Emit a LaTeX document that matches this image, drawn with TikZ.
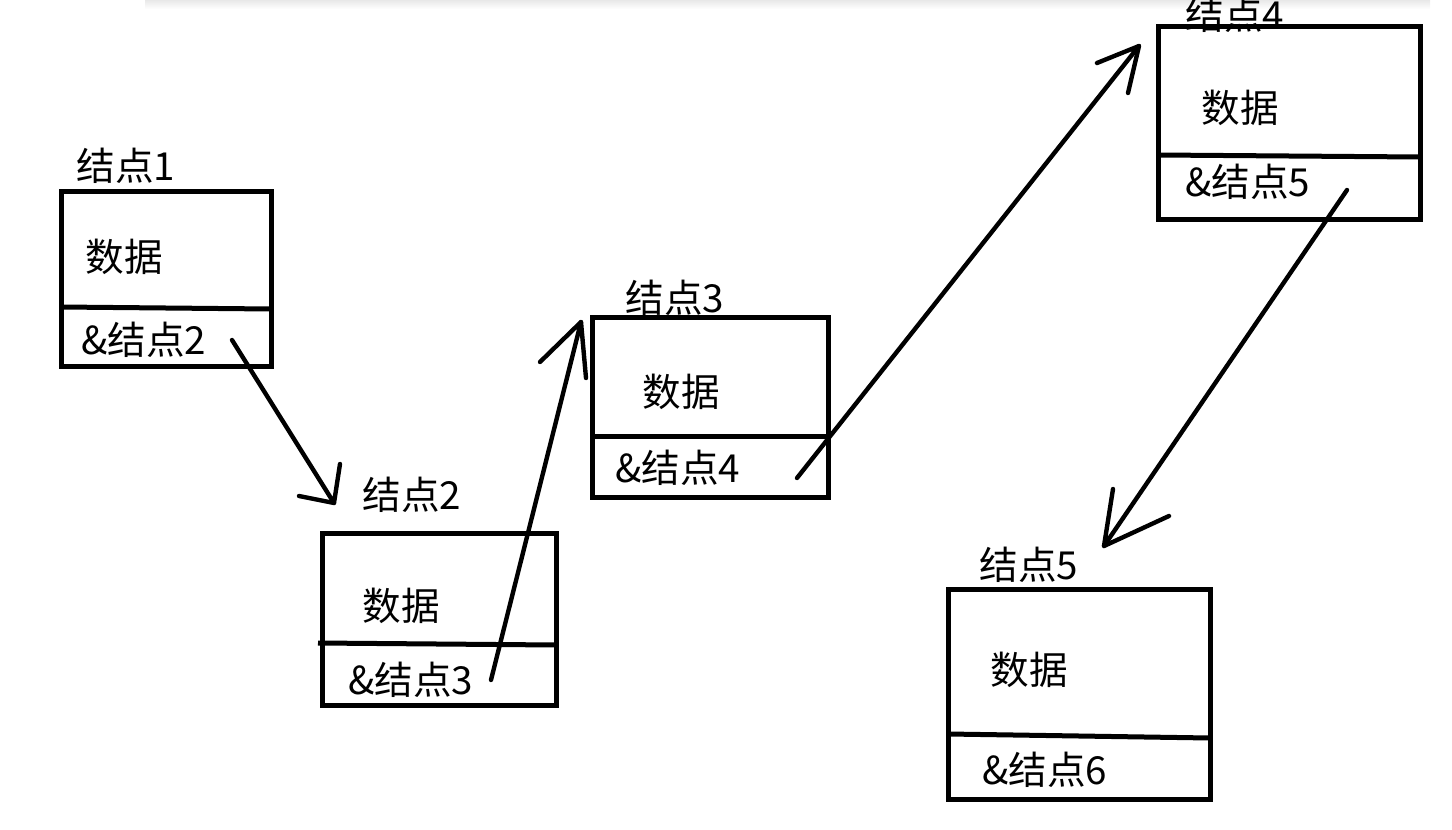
\documentclass[tikz,border=0pt]{standalone}
\usepackage{fontspec}
\setmainfont{Noto Sans CJK SC}
\begin{document}
\begin{tikzpicture}[x=0.5pt,y=-0.5pt,
  boxline/.style={line width=2.5pt},
  arr/.style={line width=2.2pt,line cap=round,line join=round},
  lbl/.style={anchor=west,inner sep=0pt,font=\fontsize{19.3pt}{21pt}\selectfont}]
\useasboundingbox (0,0) rectangle (1452,830);
\shade[top color=gray!18,bottom color=white] (145,0) rectangle (1430,9);
% node 1
\node[lbl] (l1) at (76,166) {结点1};
\draw[boxline] (61,191) rectangle (271,366);
\draw[boxline] (61,307) -- (271,309);
\node[lbl] (d1) at (85,257) {数据};
\node[lbl] (p1) at (81,340) {\&结点2};
% node 2
\node[lbl] (l2) at (362,495) {结点2};
\draw[boxline] (322,533) rectangle (556,705);
\draw[boxline] (318,643) -- (556,645);
\node[lbl] (d2) at (362,606) {数据};
\node[lbl] (p2) at (348,680) {\&结点3};
% node 3
\node[lbl] (l3) at (625,298) {结点3};
\draw[boxline] (592,317) rectangle (828,497);
\draw[boxline] (592,436) -- (828,436);
\node[lbl] (d3) at (642,392) {数据};
\node[lbl] (p3) at (615,468) {\&结点4};
% node 4
\node[lbl] (l4) at (1185,15) {结点4};
\draw[boxline] (1158,26) rectangle (1420,219);
\draw[boxline] (1158,155) -- (1420,157);
\node[lbl] (d4) at (1201,108) {数据};
\node[lbl] (p4) at (1185,182) {\&结点5};
% node 5
\node[lbl] (l5) at (979,565) {结点5};
\draw[boxline] (948,589) rectangle (1210,799);
\draw[boxline] (948,734) -- (1210,738);
\node[lbl] (d5) at (990,670) {数据};
\node[lbl] (p5) at (982,770) {\&结点6};
% arrows
\coordinate (s1) at (232,340); \coordinate (e1) at (334,503);
\draw[arr] (s1) -- (e1) -- (340,464); \draw[arr] (e1) -- (299,496);
\coordinate (s2) at (491,680); \coordinate (e2) at (581,322);
\draw[arr] (s2) -- (e2) -- (540,362); \draw[arr] (e2) -- (586,378);
\coordinate (s3) at (797,478); \coordinate (e3) at (1139,46);
\draw[arr] (s3) -- (e3) -- (1097,63); \draw[arr] (e3) -- (1128,93);
\coordinate (s4) at (1347,190); \coordinate (e4) at (1104,546);
\draw[arr] (s4) -- (e4) -- (1113,489); \draw[arr] (e4) -- (1169,516);
\end{tikzpicture}
\end{document}
